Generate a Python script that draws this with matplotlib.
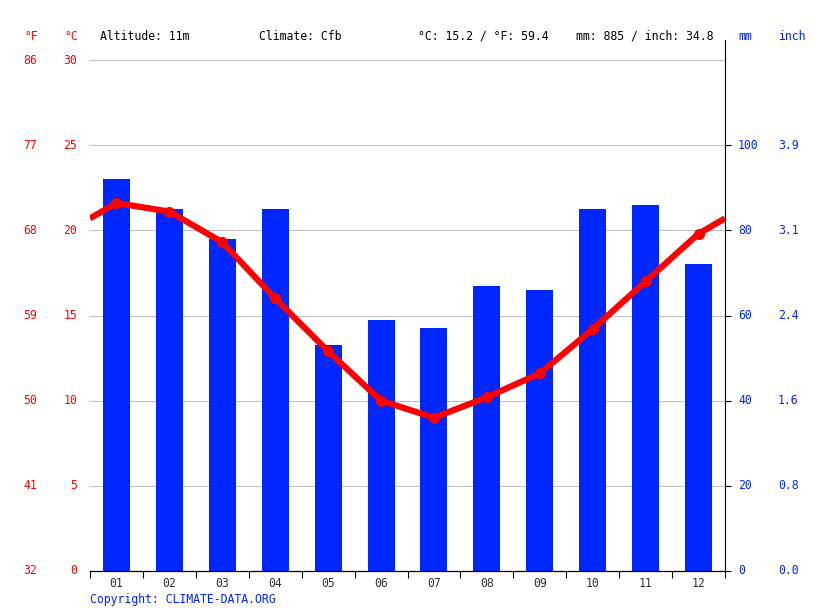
import numpy as np
import matplotlib
matplotlib.use('Agg')
import matplotlib.pyplot as plt
import matplotlib.transforms as mtransforms

months = ['01', '02', '03', '04', '05', '06', '07', '08', '09', '10', '11', '12']
precip_mm = [92, 85, 78, 85, 53, 59, 57, 67, 66, 85, 86, 72]
temp_c = [21.6, 21.1, 19.3, 16.0, 12.9, 10.0, 9.0, 10.2, 11.6, 14.2, 17.0, 19.8]
c_ticks = [0, 5, 10, 15, 20, 25, 30]
f_labels = ['32', '41', '50', '59', '68', '77', '86']
mm_ticks = [0, 20, 40, 60, 80, 100]
inch_labels = ['0.0', '0.8', '1.6', '2.4', '3.1', '3.9']

RED = '#ff0000'
BLUE = '#0026ff'
FS = 8.3
plt.rcParams['font.family'] = 'DejaVu Sans Mono'

fig = plt.figure(figsize=(8.15, 6.11), dpi=100)
W, H = 815, 611
left, right, bottom, top = 90, 725, 571, 40
ax = fig.add_axes([left / W, (H - bottom) / H, (right - left) / W, (bottom - top) / H])
ymax = (bottom - top) / ((bottom - 60) / 30.0)

x = np.arange(12)
ax.set_xlim(-0.5, 11.5)
ax.set_ylim(0, ymax)

ax2 = ax.twinx()
ax2.set_ylim(0, ymax * 4)
ax2.bar(x, precip_mm, width=0.51, color=BLUE, zorder=2)

# temperature line, wrapped at the year ends
edge = (temp_c[0] + temp_c[-1]) / 2
tx = np.concatenate([[-0.5], x, [11.5]])
ty = np.concatenate([[edge], temp_c, [edge]])
ax3 = ax.twinx()
ax3.set_ylim(0, ymax)
ax3.plot(tx, ty, color=RED, lw=4.5, solid_capstyle='butt', zorder=3)
ax3.plot(x, temp_c, 'o', color=RED, ms=7, zorder=4)
ax3.axis('off')

for c in c_ticks:
    ax.axhline(c, color='#c0c0c0', lw=0.8, zorder=0)
ax.set_zorder(0)
ax.patch.set_visible(False)
ax2.set_zorder(1)
ax3.set_zorder(2)

for a in (ax, ax2):
    for s in ('top', 'left'):
        a.spines[s].set_visible(False)
ax2.spines['right'].set_color('black')
ax.spines['right'].set_visible(False)

ax.set_xticks(np.arange(-0.5, 12, 1))
ax.set_xticklabels([])
ax.set_xticks(x, minor=True)
ax.set_xticklabels(months, minor=True, fontsize=FS, color='#333333')
ax.tick_params(axis='x', which='major', length=5, color='black', direction='out')
ax.tick_params(axis='x', which='minor', length=0, pad=4)
ax.set_yticks([])

ax2.set_yticks(mm_ticks)
ax2.set_yticklabels([])
ax2.tick_params(axis='y', length=4, color='black')

trans = mtransforms.blended_transform_factory(fig.transFigure, ax.transData)
for c, f in zip(c_ticks, f_labels):
    ax.text(77 / W, c, str(c), transform=trans, ha='right', va='center', color=RED, fontsize=FS)
    ax.text(37 / W, c, f, transform=trans, ha='right', va='center', color=RED, fontsize=FS)
trans2 = mtransforms.blended_transform_factory(fig.transFigure, ax2.transData)
for m, i in zip(mm_ticks, inch_labels):
    ax2.text(738 / W, m, str(m), transform=trans2, ha='left', va='center', color=BLUE, fontsize=FS)
    ax2.text(778 / W, m, i, transform=trans2, ha='left', va='center', color=BLUE, fontsize=FS)

ty0 = 1 - 36 / H
fig.text(24 / W, ty0, '°F', color=RED, fontsize=FS, va='center')
fig.text(64 / W, ty0, '°C', color=RED, fontsize=FS, va='center')
fig.text(100 / W, ty0, 'Altitude: 11m', color='black', fontsize=FS, va='center')
fig.text(259 / W, ty0, 'Climate: Cfb', color='black', fontsize=FS, va='center')
fig.text(418 / W, ty0, '°C: 15.2 / °F: 59.4', color='black', fontsize=FS, va='center')
fig.text(576 / W, ty0, 'mm: 885 / inch: 34.8', color='black', fontsize=FS, va='center')
fig.text(738 / W, ty0, 'mm', color=BLUE, fontsize=FS, va='center')
fig.text(778 / W, ty0, 'inch', color=BLUE, fontsize=FS, va='center')
fig.text(90 / W, 1 - 599 / H, 'Copyright: CLIMATE-DATA.ORG', color=BLUE, fontsize=FS, va='center')

fig.savefig('out.png', dpi=100)
